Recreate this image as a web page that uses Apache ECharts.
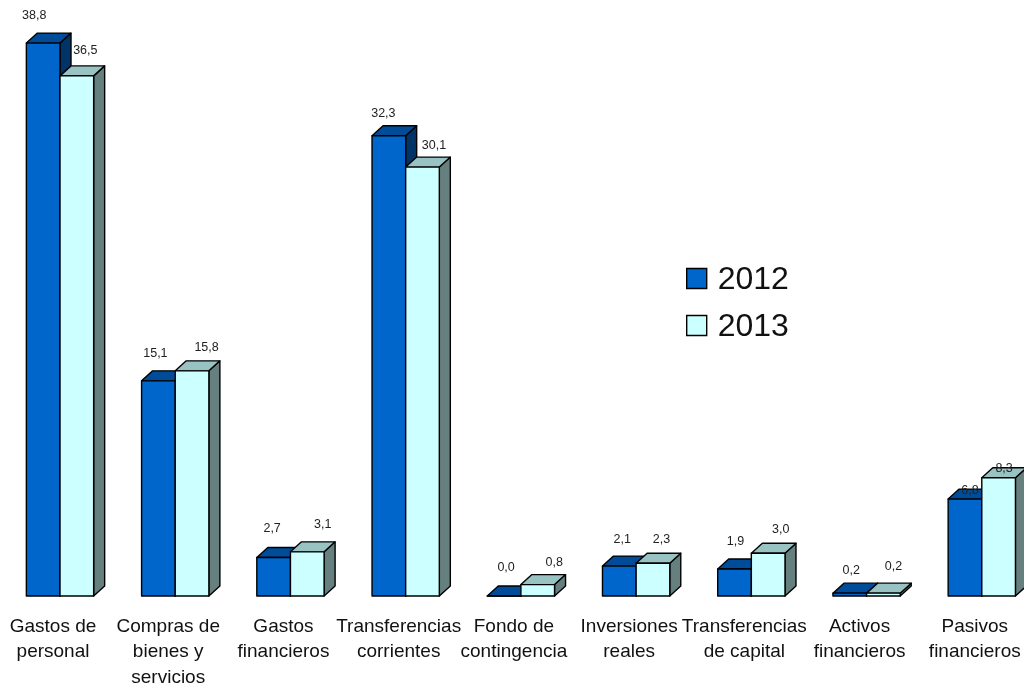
<!DOCTYPE html>
<html>
<head>
<meta charset="utf-8">
<style>html,body{margin:0;padding:0;background:#fff}#c{width:1024px;height:684px}</style>
<script src="https://cdn.jsdelivr.net/npm/echarts@6/dist/echarts.min.js"></script>
</head>
<body>
<div id="c"></div>
<script>
const categories = ['Gastos de\npersonal','Compras de\nbienes y\nservicios','Gastos\nfinancieros','Transferencias\ncorrientes','Fondo de\ncontingencia','Inversiones\nreales','Transferencias\nde capital','Activos\nfinancieros','Pasivos\nfinancieros'];
const years = ['2012','2013'];
const values2012 = [38.8,15.1,2.7,32.3,0.0,2.1,1.9,0.2,6.8];
const values2013 = [36.5,15.8,3.1,30.1,0.8,2.3,3.0,0.2,8.3];
const labelNudge2012 = [[-9,-28],[-3,-27],[-1.5,-29],[-5.5,-22],[2,-28],[3,-27],[1,-27],[1.5,-23],[5,-9]];
const labelNudge2013 = [[8.5,-25],[14.5,-23],[15.5,-27],[11.5,-22],[16.5,-22],[8.5,-24],[12.5,-24],[10,-27],[5.5,-9]];
const palette = [
  {front:'#0066CC',top:'#004C99',side:'#003366'},
  {front:'#CCFFFF',top:'#99C2C2',side:'#668080'}
];
const depthX = 11, depthY = 10, barShare = 0.292;
const fmt = v => v.toFixed(1).replace('.', ',');

function makeRender(s, nudges){
  return function(params, api){
    const i = api.value(0), v = api.value(1);
    const base = api.coord([i,0]), top = api.coord([i,v]);
    const w = api.size([1,0])[0]*barShare;
    const x0 = base[0] + (s===0 ? -w : 0), x1 = x0+w, yb = base[1], yt = top[1];
    const stroke = {stroke:'#000',lineWidth:1.4,lineJoin:'round'};
    const c = palette[s];
    return {type:'group',children:[
      {type:'polygon',shape:{points:[[x1,yb],[x1+depthX,yb-depthY],[x1+depthX,yt-depthY],[x1,yt]]},style:Object.assign({fill:c.side},stroke)},
      {type:'polygon',shape:{points:[[x0,yt],[x0+depthX,yt-depthY],[x1+depthX,yt-depthY],[x1,yt]]},style:Object.assign({fill:c.top},stroke)},
      {type:'rect',shape:{x:x0,y:yt,width:w,height:yb-yt},style:Object.assign({fill:c.front},stroke)},
      {type:'text',z2:50,style:{x:x0+w/2+nudges[i][0],y:yt+nudges[i][1],text:fmt(v),fill:'#222',font:'12.5px "Liberation Sans", Arial, sans-serif',align:'center',verticalAlign:'middle'}}
    ]};
  };
}
const toPairs = arr => arr.map((v,i)=>[i,v]);
const chart = echarts.init(document.getElementById('c'),null,{renderer:'canvas'});
chart.setOption({
  animation:false,
  backgroundColor:'#fff',
  textStyle:{fontFamily:'"Liberation Sans", Arial, sans-serif'},
  grid:{left:2.4,top:26,width:1037,height:570,containLabel:false,outerBoundsMode:'none'},
  xAxis:{type:'category',data:categories,boundaryGap:true,
    axisLine:{show:false},axisTick:{show:false},splitLine:{show:false},
    axisLabel:{interval:0,hideOverlap:false,margin:18,fontSize:19,lineHeight:25.5,color:'#111',padding:[0,14,0,0],
      fontFamily:'"Liberation Sans", Arial, sans-serif'}},
  yAxis:{type:'value',min:0,max:40,interval:10,show:false},
  legend:{orient:'vertical',left:681,top:255.5,itemWidth:20,itemHeight:20,itemGap:11,icon:'rect',
    formatter:n=>'{t|'+n+'}',
    textStyle:{rich:{t:{fontSize:32,lineHeight:32,color:'#111',padding:[4,0,0,6],fontFamily:'"Liberation Sans", Arial, sans-serif'}}},
    data:[
      {name:years[0],itemStyle:{color:palette[0].front,borderColor:'#000',borderWidth:1.4}},
      {name:years[1],itemStyle:{color:palette[1].front,borderColor:'#000',borderWidth:1.4}}
    ]},
  series:[
    {name:years[0],type:'custom',clip:false,encode:{x:0,y:1},itemStyle:{color:palette[0].front},data:toPairs(values2012),renderItem:makeRender(0,labelNudge2012),z:2},
    {name:years[1],type:'custom',clip:false,encode:{x:0,y:1},itemStyle:{color:palette[1].front},data:toPairs(values2013),renderItem:makeRender(1,labelNudge2013),z:3}
  ]
});
</script>
</body>
</html>
